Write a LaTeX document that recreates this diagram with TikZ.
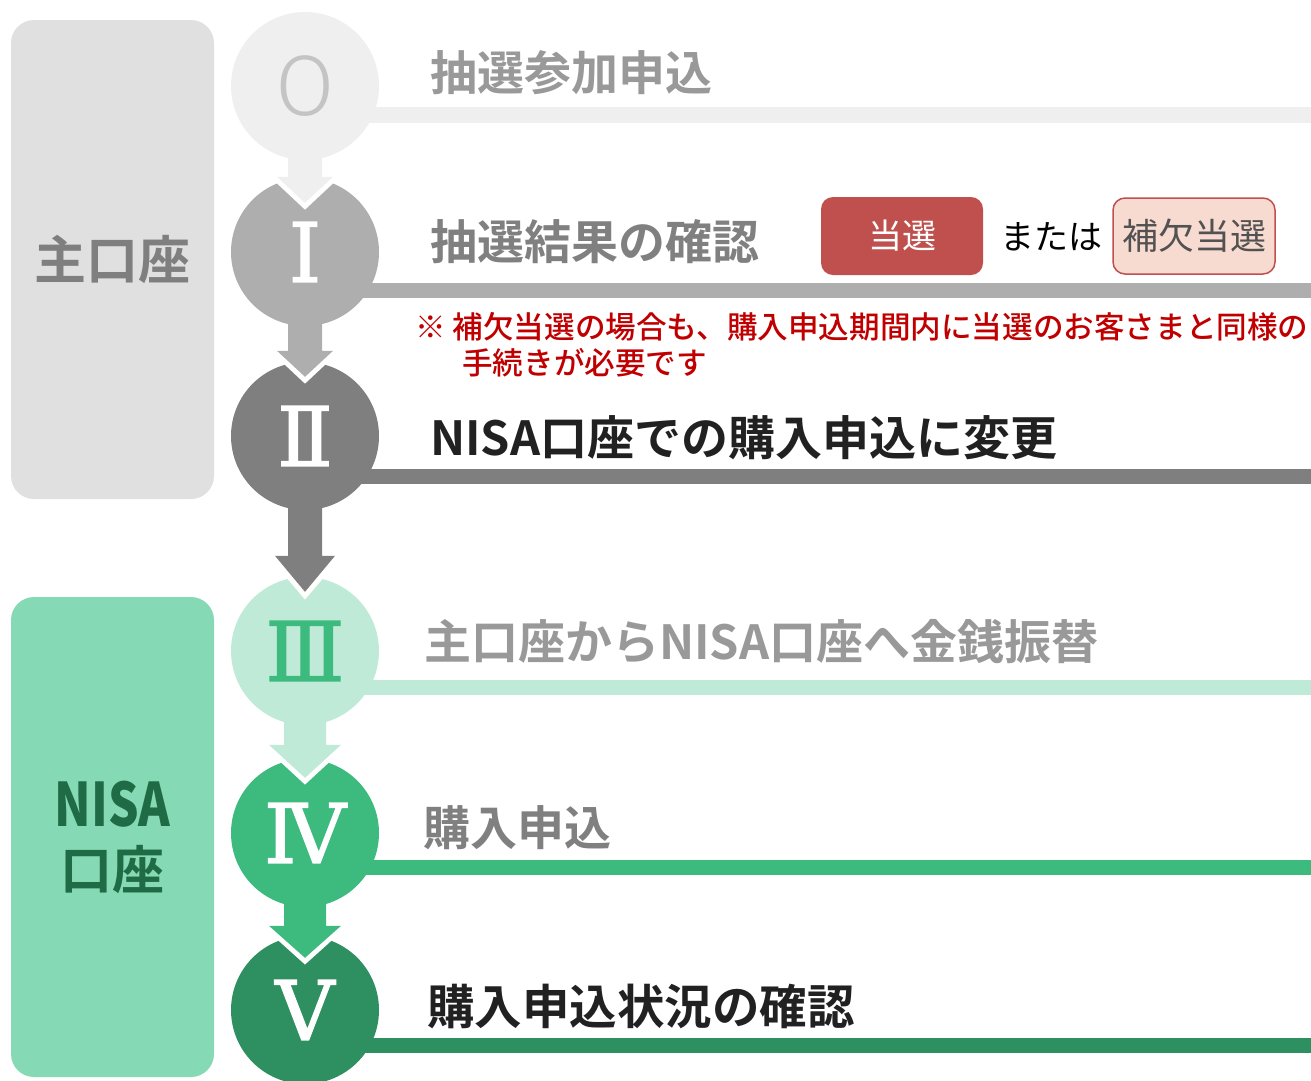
\documentclass[tikz,border=0pt]{standalone}
\usepackage{fontspec}
\usetikzlibrary{calc}
\setmainfont{Noto Sans CJK JP}[BoldFont={Noto Sans CJK JP Bold}]
\newfontfamily\narrowjp{Noto Sans CJK JP Bold}[FakeStretch=0.8]
\newfontfamily\notefont{Noto Sans CJK JP Medium}
\newfontfamily\numfont{DejaVu Serif}[FakeBold=1.6]
\newfontfamily\zerofont{Fira Sans Light}

\definecolor{stepzero}{HTML}{EFEFEF}
\definecolor{stepone}{HTML}{AEAEAE}
\definecolor{steptwo}{HTML}{7F7F7F}
\definecolor{stepthree}{HTML}{C0EAD8}
\definecolor{stepfour}{HTML}{3DBA7E}
\definecolor{stepfive}{HTML}{2E9060}
\definecolor{mainbox}{HTML}{E0E0E0}
\definecolor{nisabox}{HTML}{85D9B4}
\definecolor{nisatext}{HTML}{1F6B45}
\definecolor{winred}{HTML}{C0504D}
\definecolor{winpink}{HTML}{F8DBD0}
\definecolor{notered}{HTML}{C00000}

\pgfdeclarelayer{background}
\pgfsetlayers{background,main}

\tikzset{
  stepnode/.style={circle, minimum size=148pt, inner sep=0pt},
  steplabel/.style={anchor=west, inner sep=0pt, font=\fontsize{47}{56}\selectfont\bfseries},
  stepbar/.style={line width=15pt},
  acctbox/.style={rounded corners=23pt, minimum width=203pt, inner sep=0pt,
    font=\fontsize{52}{63}\selectfont\bfseries, align=center},
  badge/.style={rounded corners=12pt, minimum width=162pt, inner sep=0pt}
}

% block arrow from one step to the next: from, to, colour, stem, head, head length, tip depth
\newcommand{\stepflow}[7]{%
  \coordinate (tip) at ($(#2.north)+(0,#7)$);
  \draw[white, line width=10pt, line join=miter]
    ($(tip)+(-#5-4,-#6-4)$) -- (tip) -- ($(tip)+(#5+4,-#6-4)$);
  \fill[#3] ($(#1.south)+(-#4,-10)$) -- ($(tip)+(-#4,-#6)$) -- ($(tip)+(-#5,-#6)$)
    -- (tip) -- ($(tip)+(#5,-#6)$) -- ($(tip)+(#4,-#6)$) -- ($(#1.south)+(#4,-10)$) -- cycle;
}

\begin{document}
\begin{tikzpicture}[x=1pt, y=-1pt]
    \useasboundingbox (0, 0) rectangle (1311, 1080);
        % account boxes
        \node[acctbox, fill=mainbox, text=steptwo, minimum height=479pt] (mainacct) at (112.5, 259.5) {主口座};
        \node[acctbox, fill=nisabox, text=nisatext, minimum height=480pt] (nisaacct) at (112.5, 837)
            {{\fontsize{60}{63}\selectfont\narrowjp NISA}\\口座};
        % steps
        \node[stepnode, fill=stepzero, text=black!23, font=\fontsize{86}{86}\selectfont\zerofont] (s0) at (305, 86) {O};
        \node[stepnode, fill=stepone, text=white, font=\fontsize{82}{82}\selectfont\numfont] (s1) at (305, 252) {Ⅰ};
        \node[stepnode, fill=steptwo, text=white, font=\fontsize{82}{82}\selectfont\numfont] (s2) at (305, 436) {Ⅱ};
        \node[stepnode, fill=stepthree, text=stepfour, font=\fontsize{82}{82}\selectfont\numfont] (s3) at (305, 651) {Ⅲ};
        \node[stepnode, fill=stepfour, text=white, font=\fontsize{82}{82}\selectfont\numfont] (s4) at (305, 833) {Ⅳ};
        \node[stepnode, fill=stepfive, text=white, font=\fontsize{82}{82}\selectfont\numfont] (s5) at (305, 1010) {Ⅴ};
        % bars
        \coordinate (e0) at (1311, 115);
        \coordinate (e1) at (1311, 290);
        \coordinate (e2) at (1311, 476.5);
        \coordinate (e3) at (1311, 687.5);
        \coordinate (e4) at (1311, 867.5);
        \coordinate (e5) at (1311, 1045);
        \begin{pgfonlayer}{background}
        \draw[stepbar, stepzero, line width=16pt] (s0.center |- e0) -- (e0);
        \draw[stepbar, stepone] (s1.center |- e1) -- (e1);
        \draw[stepbar, steptwo] (s2.center |- e2) -- (e2);
        \draw[stepbar, stepthree] (s3.center |- e3) -- (e3);
        \draw[stepbar, stepfour] (s4.center |- e4) -- (e4);
        \draw[stepbar, stepfive] (s5.center |- e5) -- (e5);
        \end{pgfonlayer}
        % arrows
        \stepflow{s0}{s1}{stepzero}{17}{28}{26}{25}
        \stepflow{s1}{s2}{stepone}{17}{28}{26}{15}
        \stepflow{s2}{s3}{steptwo}{17}{30}{36}{15}
        \stepflow{s3}{s4}{stepthree}{21}{36}{33}{19}
        \stepflow{s4}{s5}{stepfour}{21}{36}{32}{22}
        % labels
        \node[steplabel, text=black!40] (lab0) at (430, 73) {抽選参加申込};
        \node[steplabel, text=black!50] (lab1) at (430, 242) {抽選結果の確認};
        \node[steplabel, text=black!87] (lab2) at (430, 438) {NISA口座での購入申込に変更};
        \node[steplabel, text=black!40] (lab3) at (424, 642) {主口座からNISA口座へ金銭振替};
        \node[steplabel, text=black!50] (lab4) at (423, 828) {購入申込};
        \node[steplabel, text=black!87, font=\fontsize{47.5}{56}\selectfont\bfseries] (lab5) at (427, 1006) {購入申込状況の確認};
        % result badges
        \node[badge, fill=winred, text=white, minimum height=78pt, font=\fontsize{34}{40}\selectfont] (win) at (902, 236) {当選};
        \node[anchor=west, inner sep=0pt, font=\fontsize{34}{40}\selectfont] (ortext) at (1000, 237) {または};
        \node[badge, fill=winpink, draw=winred, line width=1.5pt, text=black!68, minimum height=76pt,
            font=\fontsize{36}{40}\selectfont] (alt) at (1194, 236) {補欠当選};
        % note
        \node[anchor=west, inner sep=0pt, text=notered, font=\fontsize{30.6}{36}\selectfont\notefont] (note1) at (415, 327)
            {※ 補欠当選の場合も、購入申込期間内に当選のお客さまと同様の};
        \node[anchor=west, inner sep=0pt, text=notered, font=\fontsize{30.6}{36}\selectfont\notefont] (note2) at (462, 363)
            {手続きが必要です};
    \end{tikzpicture}
\end{document}
